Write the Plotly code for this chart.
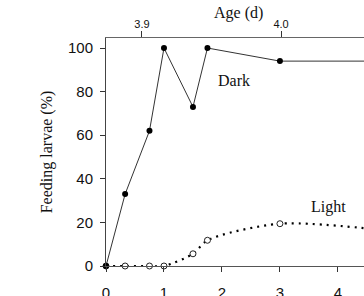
import plotly.graph_objects as go

# Time (h) on the bottom axis
time_h = [0, 0.33, 0.75, 1.0, 1.5, 1.75, 3.0, 5.0]
dark = [0, 33, 62, 100, 73, 100, 94, 94]
light = [0, 0, 0, 0, 5.6, 11.8, 19.4, 15.8]

x_ticks = [0, 1, 2, 3, 4]
y_ticks = [0, 20, 40, 60, 80, 100]

# Age (d) on the top axis
age_ticks = [3.9, 4.0]
age_at_zero = 3.87417   # age (d) at time 0
x_max = 4.45            # visible end of time axis (h)

serif = "Liberation Serif, Times New Roman, serif"
sans = "Liberation Sans, Arial, sans-serif"

fig = go.Figure()

fig.add_trace(go.Scatter(
    x=time_h, y=light, mode="lines+markers",
    line=dict(color="black", width=2.2, dash="2px,5px", shape="spline", smoothing=0.8),
    marker=dict(symbol="circle", size=6, color="white", line=dict(color="#222", width=1)),
    cliponaxis=False, showlegend=False,
))
fig.add_trace(go.Scatter(
    x=time_h, y=dark, mode="lines+markers",
    line=dict(color="#333", width=1),
    marker=dict(symbol="circle", size=6, color="black"),
    cliponaxis=False, showlegend=False,
))
# invisible trace on the age axis
fig.add_trace(go.Scatter(
    x=age_ticks, y=[None, None], xaxis="x2", mode="markers",
    marker=dict(opacity=0), showlegend=False, hoverinfo="skip",
))

fig.update_layout(
    width=364, height=296,
    margin=dict(l=106, r=0, t=38, b=30),
    paper_bgcolor="white", plot_bgcolor="white",
    xaxis=dict(
        range=[0, x_max], tickvals=x_ticks, ticks="outside", ticklen=5,
        tickcolor="#333", showline=True, linecolor="#555", linewidth=1,
        showgrid=False, zeroline=False, ticklabelstandoff=8, automargin=False,
        tickfont=dict(family=sans, size=15, color="#111"),
    ),
    xaxis2=dict(
        overlaying="x", side="top",
        range=[age_at_zero, age_at_zero + x_max / 24.0],
        tickvals=age_ticks, ticktext=["3.9", "4.0"],
        ticks="outside", ticklen=6, tickcolor="#333",
        showline=True, linecolor="#666", linewidth=1,
        showgrid=False, zeroline=False, ticklabelstandoff=-1, automargin=False,
        tickfont=dict(family=sans, size=11, color="#111"),
    ),
    yaxis=dict(
        range=[0, 104.6], tickvals=y_ticks, ticks="outside", ticklen=5,
        tickcolor="#333", showline=True, linecolor="#444", linewidth=1,
        showgrid=False, zeroline=False, ticklabelstandoff=4, automargin=False,
        tickfont=dict(family=sans, size=15, color="#111"),
        title=dict(text="Feeding larvae (%)", font=dict(family=serif, size=16, color="#111"), standoff=11),
    ),
    annotations=[
        dict(x=0.515, y=1.11, xref="paper", yref="paper", yanchor="middle", text="Age (d)",
             showarrow=False, font=dict(family=serif, size=16, color="#111")),
        dict(x=2.2, y=85, text="Dark", showarrow=False, xref="x", yref="y",
             font=dict(family=serif, size=16, color="#111")),
        dict(x=3.83, y=27, text="Light", showarrow=False, xref="x", yref="y",
             font=dict(family=serif, size=16, color="#111")),
    ],
)

fig.write_html("out.html")
